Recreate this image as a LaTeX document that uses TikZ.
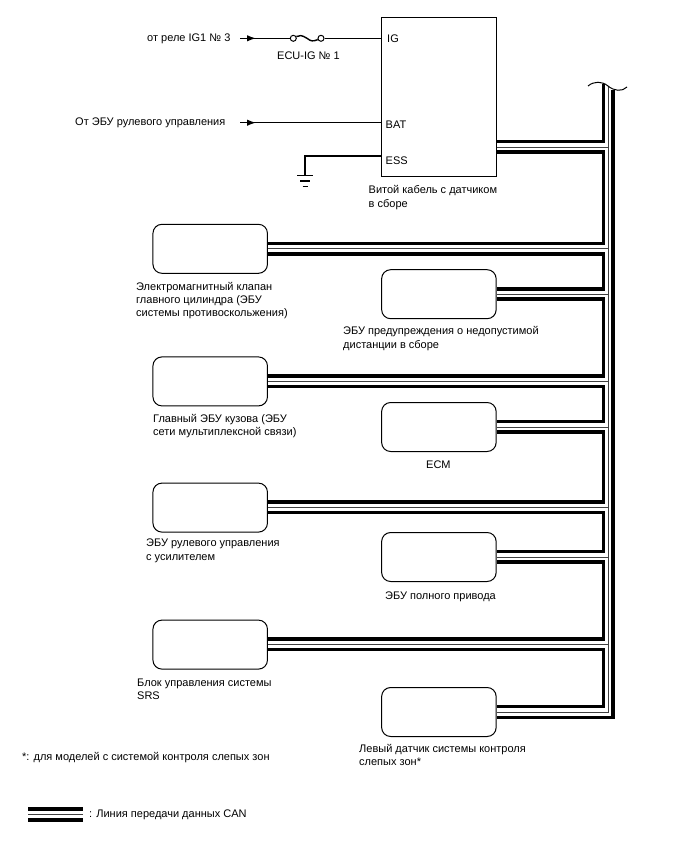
\documentclass[tikz,border=0pt]{standalone}
\usepackage{fontspec}
\setmainfont{Liberation Sans}
\usetikzlibrary{arrows.meta}
\tikzset{
  wire/.style={line width=1.4pt},
  ecu/.style={draw,line width=1pt,rounded corners=9pt,minimum width=114.5pt,minimum height=49pt,inner sep=0pt},
  lbl/.style={anchor=west,inner sep=0pt,yshift=-1pt,align=left,font=\fontsize{11}{13.4}\selectfont},
  canthick/.style={line width=3.6pt,line join=miter},
  canthin/.style={line width=0.9pt,black!75},
  feed/.style={wire,-{Latex[length=9pt,width=6.5pt]}},
  fuseend/.style={circle,draw,line width=1pt,inner sep=0pt,minimum size=6pt}
}
\newcommand{\cangap}[2]{\draw[canthick] ([yshift=-5pt]#1) -| ([yshift=5.5pt]busl |- #2) -- ([yshift=5.5pt]#2);}
\newcommand{\canmid}[1]{\draw[canthin] (#1) -- (busc |- #1);}
\begin{document}
\begin{tikzpicture}[x=1pt,y=-1pt]
\useasboundingbox (0,0) rectangle (688,852);
\node[draw,line width=1pt,minimum width=114.5pt,minimum height=159pt,inner sep=0pt] (spiral) at (438.9,96.5) {};
\node[ecu] (mc) at (210.2,248.8) {};
\node[ecu] (warn) at (438.9,294.2) {};
\node[ecu] (body) at (210.2,381.4) {};
\node[ecu] (ecm) at (438.9,427) {};
\node[ecu] (steer) at (210.2,507.6) {};
\node[ecu] (awd) at (438.9,557) {};
\node[ecu] (srs) at (210.2,644.6) {};
\node[ecu] (bsm) at (438.9,712) {};
\coordinate (can) at (spiral.east |- 0,147);
\coordinate (busl) at (603.6,84);
\coordinate (busc) at (608.2,86);
\coordinate (busr) at (612.8,90);
\draw[canthick] (busl) |- ([yshift=5.5pt]can);
\cangap{can}{mc.east}
\cangap{mc.east}{warn.east}
\cangap{warn.east}{body.east}
\cangap{body.east}{ecm.east}
\cangap{ecm.east}{steer.east}
\cangap{steer.east}{awd.east}
\cangap{awd.east}{srs.east}
\cangap{srs.east}{bsm.east}
\draw[canthick] (busr) |- ([yshift=-5.5pt]bsm.east);
\draw[canthin] (busc) |- (bsm.east);
\canmid{can}
\canmid{mc.east}
\canmid{warn.east}
\canmid{body.east}
\canmid{ecm.east}
\canmid{steer.east}
\canmid{awd.east}
\canmid{srs.east}
\draw[line width=1pt] (588,86) .. controls (594,81) and (602,81) .. (608,86) .. controls (614,91) and (622,92) .. (627,87);
\coordinate (igin) at (240,38.3);
\coordinate (igtip) at (256,38.3);
\coordinate (batin) at (240,122.7);
\coordinate (battip) at (256,122.7);
\coordinate (igpin) at (spiral.west |- 0,38.3);
\coordinate (batpin) at (spiral.west |- 0,122.7);
\coordinate (esspin) at (spiral.west |- 0,156);
\coordinate (gnd) at (305,175.5);
\node[fuseend] (fusel) at (293.3,38.3) {};
\node[fuseend] (fuser) at (321,38.3) {};
\draw[wire] (igin) -- (fusel);
\draw[feed] (igin) -- (igtip);
\draw[wire] (fusel) .. controls (299,35) and (302,35) .. (307,38.3) .. controls (311,41.5) and (313,41.5) .. (fuser);
\draw[wire] (fuser) -- (igpin);
\draw[wire] (batin) -- (batpin);
\draw[feed] (batin) -- (battip);
\draw[wire] (esspin) -| (gnd);
\draw[wire] (297,175.5) -- (313,175.5);
\draw[wire] (300,181) -- (310,181);
\draw[wire] (302.5,186.5) -- (307.5,186.5);
\node[lbl] (igfrom) at (147,38) {от реле IG1 № 3};
\node[lbl] (fuselbl) at (277,55) {ECU-IG № 1};
\node[lbl] (iglbl) at (387,38) {IG};
\node[lbl] (batfrom) at (75,122) {От ЭБУ рулевого управления};
\node[lbl] (batlbl) at (385.5,123.5) {BAT};
\node[lbl] (esslbl) at (385.5,160) {ESS};
\node[lbl] (spirallbl) at (368.5,196.5) {Витой кабель с датчиком\\в сборе};
\node[lbl] (mclbl) at (136,299.5) {Электромагнитный клапан\\главного цилиндра (ЭБУ\\системы противоскольжения)};
\node[lbl] (warnlbl) at (343,337.5) {ЭБУ предупреждения о недопустимой\\дистанции в сборе};
\node[lbl] (bodylbl) at (153,424.8) {Главный ЭБУ кузова (ЭБУ\\сети мультиплексной связи)};
\node[lbl] (ecmlbl) at (426,464) {ECM};
\node[lbl] (steerlbl) at (146,549.8) {ЭБУ рулевого управления\\с усилителем};
\node[lbl] (awdlbl) at (385,596) {ЭБУ полного привода};
\node[lbl] (srslbl) at (137,688.3) {Блок управления системы\\SRS};
\node[lbl] (bsmlbl) at (359,754) {Левый датчик системы контроля\\слепых зон*};
\node[lbl] (note) at (22,756.7) {*: для моделей с системой контроля слепых зон};
\coordinate (keyl) at (28,814.5);
\coordinate (keyr) at (82.5,814.5);
\draw[canthick] ([yshift=5.5pt]keyl) -- ([yshift=5.5pt]keyr);
\draw[canthin] (keyl) -- (keyr);
\draw[canthick] ([yshift=-5.5pt]keyl) -- ([yshift=-5.5pt]keyr);
\node[lbl] (keylbl) at (89,814) {: Линия передачи данных CAN};
\end{tikzpicture}
\end{document}
